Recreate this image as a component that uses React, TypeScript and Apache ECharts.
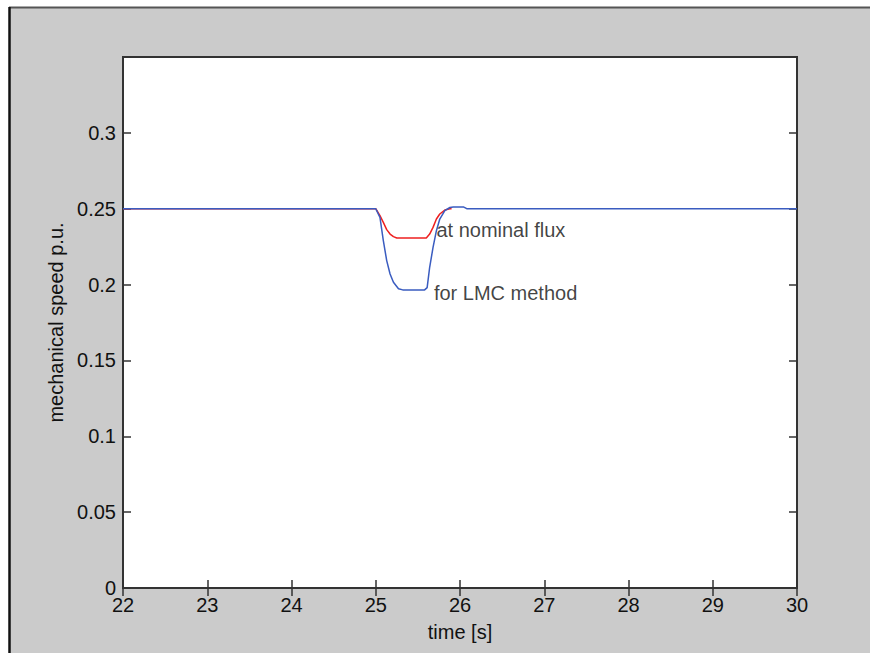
import React, { useEffect, useRef } from "react";
import * as echarts from "echarts";

const xTicks = [22, 23, 24, 25, 26, 27, 28, 29, 30];
const yTickLabels = ["0", "0.05", "0.1", "0.15", "0.2", "0.25", "0.3"];

const redTime = [22, 25.0, 25.05, 25.09, 25.13, 25.17, 25.21, 25.25, 25.6, 25.64, 25.68, 25.72, 25.76, 25.82, 25.88, 25.9];
const redSpeed = [0.25, 0.25, 0.2454, 0.241, 0.2362, 0.2333, 0.2316, 0.2307, 0.2307, 0.2333, 0.2377, 0.2432, 0.2465, 0.2491, 0.25, 0.25];

const blueTime = [22, 25.0, 25.05, 25.09, 25.13, 25.17, 25.21, 25.27, 25.32, 25.58, 25.61, 25.64, 25.68, 25.72, 25.76, 25.82, 25.88, 25.92, 26.04, 26.08, 30];
const blueSpeed = [0.25, 0.25, 0.2443, 0.229, 0.2158, 0.207, 0.2015, 0.1972, 0.1965, 0.1965, 0.198, 0.2114, 0.2245, 0.2355, 0.2432, 0.2487, 0.2508, 0.2512, 0.2512, 0.25, 0.25];

const annotations = [
  { text: "at nominal flux", x: 25.72, y: 0.2362 },
  { text: "for LMC method", x: 25.69, y: 0.1945 },
];

const FONT = "'Liberation Sans', Arial, sans-serif";
const TXT = "#111";

export default function App() {
  const ref = useRef<HTMLDivElement>(null);
  useEffect(() => {
    if (!ref.current) return;
    const chart = echarts.init(ref.current, undefined, { renderer: "svg" });
    const fmtY = (v: number) => {
      const r = Math.round(v * 100) / 100;
      if (r > 0.31) return "";
      return yTickLabels.find((s) => Math.abs(parseFloat(s) - r) < 1e-6) ?? "";
    };
    chart.setOption({
      animation: false,
      backgroundColor: "#ffffff",
      textStyle: { fontFamily: FONT },
      graphic: [
        { type: "rect", shape: { x: 9, y: 7, width: 870, height: 653 }, style: { fill: "#cbcbcb" }, z: -10 },
        { type: "line", shape: { x1: 9, y1: 7.5, x2: 870, y2: 7.5 }, style: { stroke: "#555", lineWidth: 2 }, z: -9 },
        { type: "line", shape: { x1: 9.5, y1: 7, x2: 9.5, y2: 653 }, style: { stroke: "#111", lineWidth: 2.5 }, z: -9 },
      ],
      grid: {
        left: 123,
        top: 57,
        right: 73,
        bottom: 65,
        show: true,
        backgroundColor: "#ffffff",
        borderColor: "#333",
        borderWidth: 2,
      },
      xAxis: [
        {
          type: "value",
          min: xTicks[0],
          max: xTicks[xTicks.length - 1],
          interval: 1,
          name: "time [s]",
          nameLocation: "middle",
          nameGap: 34,
          nameTextStyle: { fontSize: 20, color: TXT, fontFamily: FONT },
          axisLine: { show: true, lineStyle: { color: "#333", width: 2 } },
          axisTick: { show: true, inside: true, length: 8, lineStyle: { color: "#333", width: 1.5 } },
          axisLabel: { fontSize: 20, color: TXT, margin: 7, fontFamily: FONT, showMinLabel: true, showMaxLabel: true },
          splitLine: { show: false },
        },
        {
          type: "value",
          position: "top",
          min: xTicks[0],
          max: xTicks[xTicks.length - 1],
          interval: 1,
          axisLine: { show: false },
          axisTick: { show: true, inside: true, length: 8, lineStyle: { color: "#333", width: 1.5 } },
          axisLabel: { show: false },
          splitLine: { show: false },
        },
      ],
      yAxis: [
        {
          type: "value",
          min: 0,
          max: 0.35,
          interval: 0.05,
          name: "mechanical speed p.u.",
          nameLocation: "middle",
          nameGap: 55,
          nameRotate: 90,
          nameTextStyle: { fontSize: 20, color: TXT, fontFamily: FONT },
          axisLine: { show: true, lineStyle: { color: "#333", width: 2 } },
          axisTick: { show: true, inside: true, length: 8, lineStyle: { color: "#333", width: 1.5 } },
          axisLabel: { fontSize: 20, color: TXT, margin: 7, fontFamily: FONT, formatter: fmtY },
          splitLine: { show: false },
        },
        {
          type: "value",
          position: "right",
          min: 0,
          max: 0.35,
          interval: 0.05,
          axisLine: { show: false },
          axisTick: { show: true, inside: true, length: 8, lineStyle: { color: "#333", width: 1.5 } },
          axisLabel: { show: false },
          splitLine: { show: false },
        },
      ],
      series: [
        {
          type: "line",
          data: redTime.map((t, i) => [t, redSpeed[i]]),
          showSymbol: false,
          lineStyle: { color: "#ee2020", width: 1.5 },
          z: 2,
        },
        {
          type: "line",
          data: blueTime.map((t, i) => [t, blueSpeed[i]]),
          showSymbol: false,
          lineStyle: { color: "#3a5cc0", width: 1.5 },
          z: 3,
        },
        {
          type: "scatter",
          data: annotations.map((a) => ({ value: [a.x, a.y], name: a.text })),
          symbolSize: 0,
          silent: true,
          z: 5,
          label: {
            show: true,
            position: "right",
            distance: 0,
            formatter: (p: any) => p.name,
            fontSize: 20,
            color: TXT,
            fontFamily: FONT,
          },
        },
      ],
    });
    return () => chart.dispose();
  }, []);
  return (
    <div
      ref={ref}
      style={{ position: "fixed", left: 0, top: 0, width: 870, height: 653 }}
    />
  );
}
